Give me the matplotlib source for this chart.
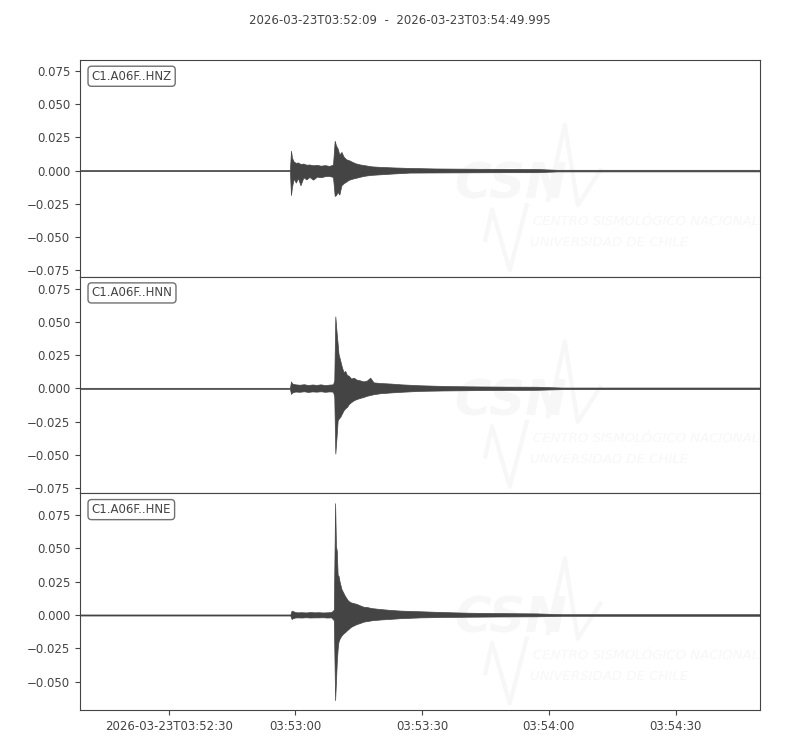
import numpy as np
import matplotlib
matplotlib.use("Agg")
import matplotlib.pyplot as plt
from matplotlib.ticker import MultipleLocator, FixedLocator, FixedFormatter

# ---- data (seconds after 2026-03-23T03:52:09) ----
title = "2026-03-23T03:52:09  -  2026-03-23T03:54:49.995"
t_end = 160.995
channels = ["C1.A06F..HNZ", "C1.A06F..HNN", "C1.A06F..HNE"]

# envelope of each trace: time [s], upper and lower amplitude
t_z = [0, 49.7, 49.95, 50.2, 50.6, 51.1, 51.6, 52.2, 52.9, 53.6,
       54.3, 55.2, 56.1, 57.0, 58.0, 59.0, 59.9, 60.3, 60.6, 61.0,
       61.4, 61.9, 62.4, 63.0, 63.6, 64.3, 65.2, 66.3, 67.5, 69.0,
       71.0, 74.0, 78.0, 84.0, 92.0, 100.0, 108.0, 113.0, 161.0]
hi_z = [0.0004, 0.0004, 0.0149, 0.0095, 0.0068, 0.0058, 0.0061, 0.0050, 0.0053, 0.0044,
        0.0046, 0.0040, 0.0043, 0.0037, 0.0041, 0.0035, 0.0045, 0.0224, 0.0190, 0.0166,
        0.0120, 0.0140, 0.0105, 0.0085, 0.0079, 0.0068, 0.0055, 0.0046, 0.0040, 0.0032,
        0.0028, 0.0024, 0.0020, 0.0016, 0.0014, 0.0013, 0.0012, 0.0006, 0.0006]
lo_z = [-0.0004, -0.0004, -0.0184, -0.0120, -0.0060, -0.0090, -0.0055, -0.0110, -0.0050, -0.0066,
        -0.0048, -0.0068, -0.0045, -0.0050, -0.0042, -0.0040, -0.0048, -0.0190, -0.0185, -0.0160,
        -0.0180, -0.0110, -0.0095, -0.0083, -0.0070, -0.0062, -0.0055, -0.0046, -0.0038, -0.0032,
        -0.0028, -0.0022, -0.0015, -0.0014, -0.0013, -0.0012, -0.0012, -0.0006, -0.0006]

t_n = [0, 49.7, 49.96, 50.3, 51.0, 52.0, 53.0, 54.0, 55.0, 56.0,
       57.0, 58.0, 59.0, 59.9, 60.2, 60.45, 60.75, 61.0, 61.2, 61.6,
       62.0, 62.4, 62.8, 63.2, 63.6, 64.2, 64.8, 65.5, 66.3, 67.1,
       67.9, 68.7, 69.5, 71.0, 73.5, 76.0, 80.5, 86.0, 92.0, 100.0,
       108.0, 114.0, 161.0]
hi_n = [0.0004, 0.0004, 0.0051, 0.0035, 0.0030, 0.0027, 0.0031, 0.0025, 0.0029, 0.0026,
        0.0030, 0.0024, 0.0028, 0.0030, 0.0060, 0.0540, 0.0420, 0.0335, 0.0260, 0.0210,
        0.0160, 0.0122, 0.0130, 0.0100, 0.0095, 0.0073, 0.0080, 0.0065, 0.0060, 0.0052,
        0.0058, 0.0080, 0.0045, 0.0040, 0.0036, 0.0030, 0.0023, 0.0018, 0.0015, 0.0013,
        0.0012, 0.0006, 0.0006]
lo_n = [-0.0004, -0.0004, -0.0042, -0.0030, -0.0024, -0.0026, -0.0022, -0.0027, -0.0023, -0.0025,
        -0.0022, -0.0026, -0.0023, -0.0025, -0.0060, -0.0490, -0.0360, -0.0240, -0.0230, -0.0215,
        -0.0190, -0.0165, -0.0150, -0.0140, -0.0120, -0.0103, -0.0090, -0.0080, -0.0072, -0.0065,
        -0.0056, -0.0050, -0.0044, -0.0037, -0.0031, -0.0026, -0.0019, -0.0016, -0.0014, -0.0012,
        -0.0011, -0.0006, -0.0006]

t_e = [0, 49.8, 50.1, 50.4, 50.9, 51.5, 52.5, 53.5, 54.5, 55.5,
       56.5, 57.5, 58.5, 59.5, 60.1, 60.4, 60.6, 60.8, 61.0, 61.2,
       61.5, 61.9, 62.3, 62.7, 63.1, 63.5, 64.1, 64.7, 65.5, 66.3,
       67.1, 67.9, 69.0, 71.0, 73.5, 75.8, 80.5, 86.0, 92.0, 100.0,
       108.0, 114.0, 161.0]
hi_e = [0.0004, 0.0004, 0.0032, 0.0030, 0.0022, 0.0020, 0.0021, 0.0019, 0.0022, 0.0020,
        0.0021, 0.0019, 0.0020, 0.0022, 0.0040, 0.0840, 0.0520, 0.0480, 0.0300, 0.0295,
        0.0245, 0.0195, 0.0170, 0.0145, 0.0125, 0.0107, 0.0095, 0.0090, 0.0083, 0.0072,
        0.0062, 0.0060, 0.0052, 0.0045, 0.0038, 0.0033, 0.0028, 0.0022, 0.0017, 0.0014,
        0.0012, 0.0006, 0.0006]
lo_e = [-0.0004, -0.0004, -0.0030, -0.0024, -0.0019, -0.0018, -0.0019, -0.0017, -0.0019, -0.0018,
        -0.0018, -0.0017, -0.0019, -0.0018, -0.0040, -0.0640, -0.0500, -0.0350, -0.0255, -0.0200,
        -0.0175, -0.0155, -0.0140, -0.0130, -0.0118, -0.0107, -0.0090, -0.0080, -0.0068, -0.0060,
        -0.0050, -0.0046, -0.0040, -0.0034, -0.0029, -0.0024, -0.0018, -0.0015, -0.0013, -0.0011,
        -0.0010, -0.0006, -0.0006]

x_ticks = [21, 51, 81, 111, 141]
x_labels = ["2026-03-23T03:52:30", "03:53:00", "03:53:30", "03:54:00", "03:54:30"]

traces = [(t_z, hi_z, lo_z), (t_n, hi_n, lo_n), (t_e, hi_e, lo_e)]

c = "#444444"
wm = "#f7f7f7"  # watermark

fig, axes = plt.subplots(3, 1, figsize=(8, 7.5), dpi=100, sharex=True)
fig.subplots_adjust(left=0.1, right=0.95, top=0.92, bottom=0.0533, hspace=0)

# equal scale on all channels, centred per trace
half = max((max(h) - min(l)) for _, h, l in traces) / 2 * 1.1

for ax, (t, hi, lo), name in zip(axes, traces, channels):
    # faint CSN logo watermark
    ax.text(0.551, 0.36, "CSN", transform=ax.transAxes, fontsize=36, fontweight="bold",
            fontstyle="italic", color=wm, zorder=0, clip_on=True)
    ax.text(0.666, 0.253, "CENTRO SISMOLÓGICO NACIONAL", transform=ax.transAxes,
            fontsize=9.5, fontstyle="italic", color=wm, va="center", zorder=0, clip_on=True)
    ax.text(0.662, 0.157, "UNIVERSIDAD DE CHILE", transform=ax.transAxes,
            fontsize=9.5, fontstyle="italic", color=wm, va="center", zorder=0, clip_on=True)
    ax.plot([0.688, 0.713, 0.732, 0.765], [0.355, 0.70, 0.33, 0.49],
            transform=ax.transAxes, color=wm, lw=3, zorder=0)
    ax.plot([0.596, 0.606, 0.632, 0.657], [0.17, 0.31, 0.03, 0.33],
            transform=ax.transAxes, color=wm, lw=3, zorder=0)

    ax.fill_between(t, lo, hi, color=c, lw=0.5, edgecolor=c, zorder=2)
    mid = (max(hi) + min(lo)) / 2
    ax.set_ylim(mid - half, mid + half)
    ax.set_xlim(0, t_end)
    ax.yaxis.set_major_locator(MultipleLocator(0.025))
    ax.text(0.017, 0.955, name, transform=ax.transAxes, va="top", ha="left",
            fontsize=8.5, color=c,
            bbox=dict(boxstyle="round,pad=0.3", fc="white", ec="#707070", lw=1.0))
    for s in ax.spines.values():
        s.set_color(c)
    ax.tick_params(colors=c, labelsize=8.5)
    ax.tick_params(axis="x", bottom=False)

axes[-1].tick_params(axis="x", bottom=True)
axes[-1].xaxis.set_major_locator(FixedLocator(x_ticks))
axes[-1].xaxis.set_major_formatter(FixedFormatter(x_labels))

fig.suptitle(title, fontsize=8.5, color=c, y=0.982)
fig.savefig("out.png", dpi=100)
